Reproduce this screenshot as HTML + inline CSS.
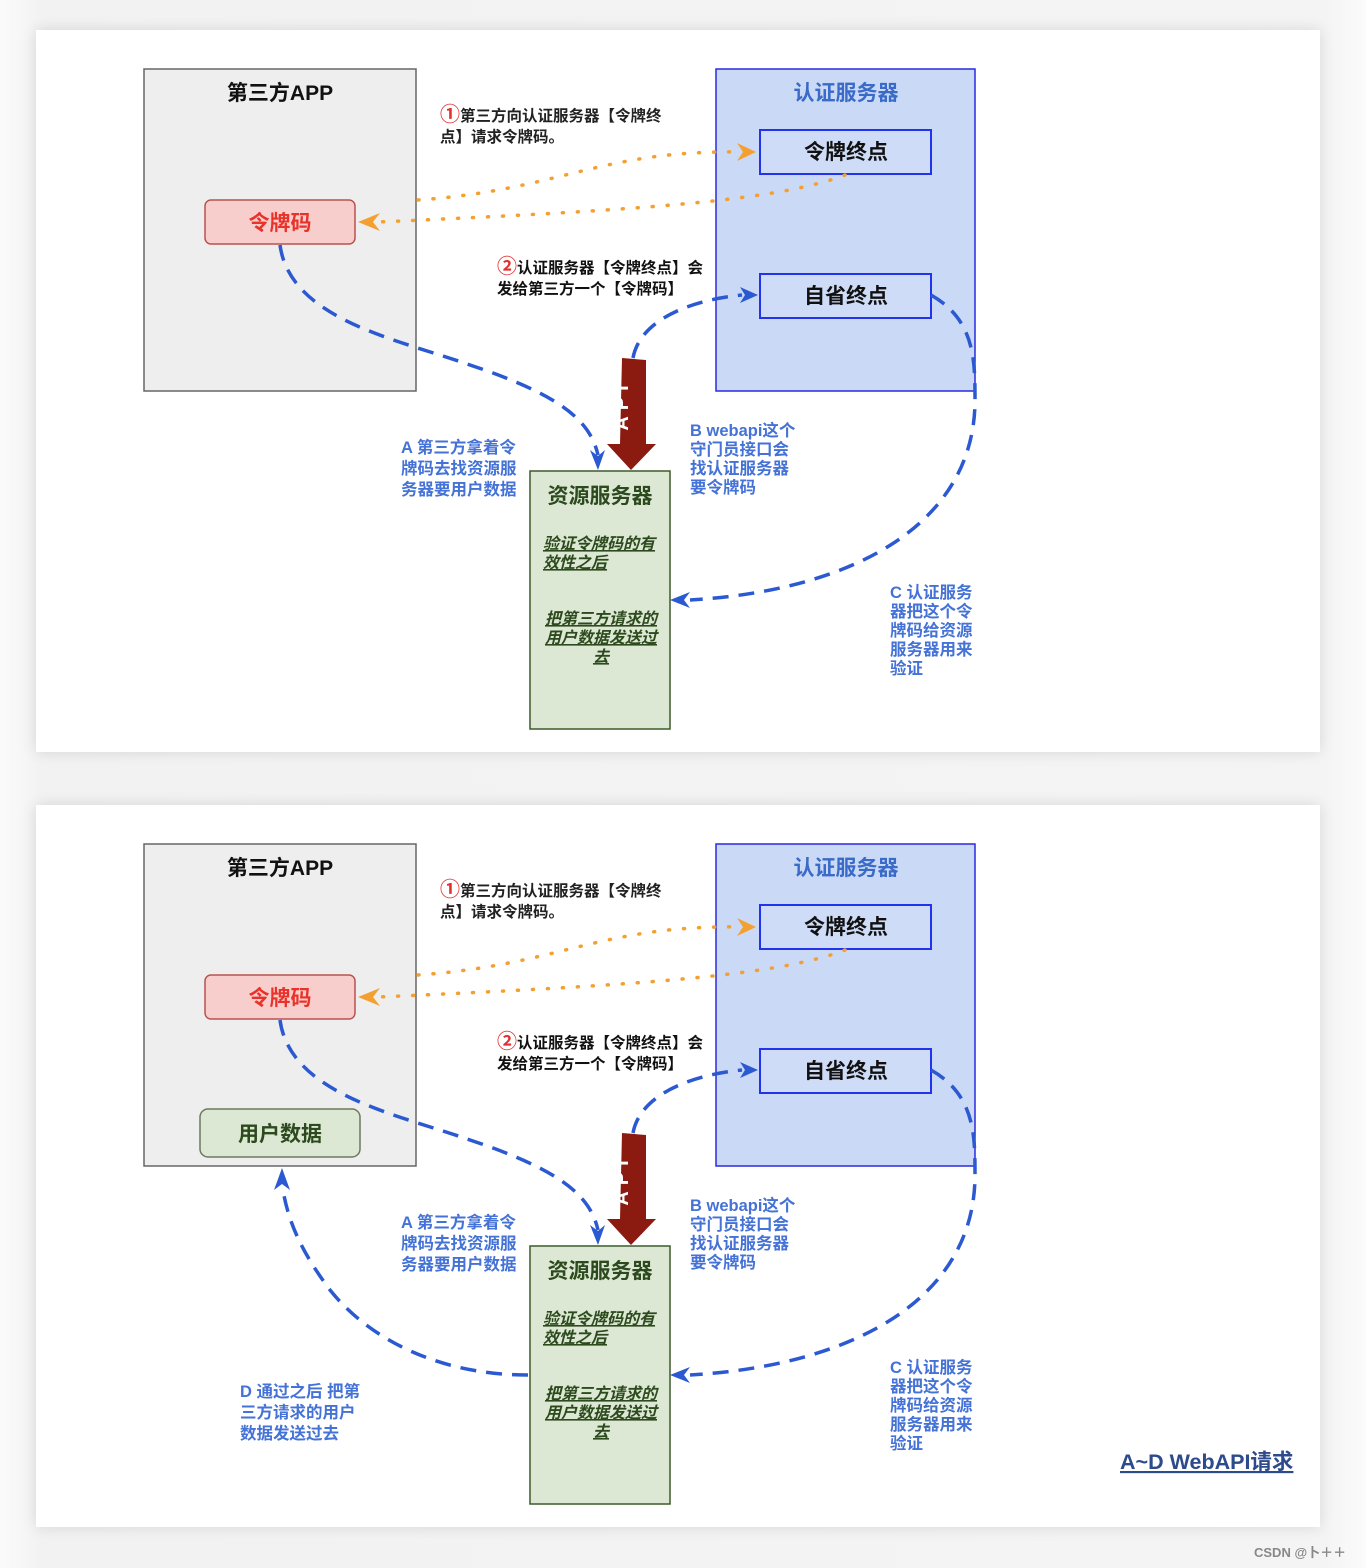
<!DOCTYPE html>
<html><head><meta charset="utf-8"><style>
html,body{margin:0;padding:0;background:#fff;}
body{width:1366px;height:1568px;position:relative;overflow:hidden;background:linear-gradient(90deg,#fbfbfb,#f2f2f2 3%,#f4f4f4 97%,#fbfbfb);}
.panel{position:absolute;left:36px;width:1284px;height:722px;background:#fff;box-shadow:0 0 14px rgba(0,0,0,0.12);}
svg{position:absolute;left:0;top:0;}
text{font-family:"Liberation Sans","Noto Sans CJK SC",sans-serif;font-weight:bold;}
</style></head><body>
<div class="panel" style="top:30px"></div>
<div class="panel" style="top:805px"></div>
<svg width="1366" height="1568" viewBox="0 0 1366 1568">
<defs>
<g id="d">
 <rect x="144" y="69" width="272" height="322" fill="#eeeeee" stroke="#666" stroke-width="1.5"/>
 <text x="280" y="100" font-size="21" text-anchor="middle" fill="#111">第三方APP</text>
 <rect x="205" y="200" width="150" height="44" rx="6" fill="#f8cecc" stroke="#b85450" stroke-width="1.5"/>
 <text x="280" y="230" font-size="21" text-anchor="middle" fill="#e8322a">令牌码</text>
 <rect x="716" y="69" width="259" height="322" fill="#cad9f5" stroke="#2a2ae0" stroke-width="1.5"/>
 <text x="846" y="100" font-size="21" text-anchor="middle" fill="#3a6bc9">认证服务器</text>
 <rect x="760" y="130" width="171" height="44" fill="#cfdcf7" stroke="#2233ee" stroke-width="2"/>
 <text x="846" y="159" font-size="21" text-anchor="middle" fill="#111">令牌终点</text>
 <rect x="760" y="274" width="171" height="44" fill="#cfdcf7" stroke="#2233ee" stroke-width="2"/>
 <text x="846" y="303" font-size="21" text-anchor="middle" fill="#111">自省终点</text>
 <rect x="530" y="471" width="140" height="258" fill="#dce8d4" stroke="#3d5a2b" stroke-width="1.5"/>
 <text x="600" y="503" font-size="21" text-anchor="middle" fill="#2d4a1e">资源服务器</text>
 <g font-size="16" font-style="italic" fill="#2d4a1e" text-decoration="underline">
  <text x="543" y="549">验证令牌码的有</text>
  <text x="543" y="568">效性之后</text>
  <text x="601" y="624" text-anchor="middle">把第三方请求的</text>
  <text x="601" y="643" text-anchor="middle">用户数据发送过</text>
  <text x="601" y="662" text-anchor="middle">去</text>
 </g>
 <path d="M418 200 C560 190 600 150 740 152" fill="none" stroke="#f4a031" stroke-width="3.5" stroke-dasharray="1 14" stroke-linecap="round"/>
 <path d="M737 143 L756 152 L737 161 L743 152Z" fill="#f4a031"/>
 <path d="M845 175 C780 200 650 210 378 222" fill="none" stroke="#f4a031" stroke-width="3.5" stroke-dasharray="1 14" stroke-linecap="round"/>
 <path d="M380 213 L358 222 L380 231 L373 222Z" fill="#f4a031"/>
 <g fill="none" stroke="#2b59d1" stroke-width="3.5" stroke-dasharray="16 10">
  <path d="M280 245 C290 320 400 340 470 365 C560 395 590 420 598 455"/>
  <path d="M633 358 C640 320 690 300 742 295"/>
  <path d="M931 295 C975 320 975 360 975 400 C975 520 860 590 690 600"/>
 </g>
 <path d="M590 450 L598 470 L605 450 L598 456Z" fill="#2b59d1"/>
 <path d="M740 287 L758 295 L740 303 L745 295Z" fill="#2b59d1"/>
 <path d="M690 592 L670 600 L690 608 L684 600Z" fill="#2b59d1"/>
 <path d="M622 358 L646 360 L646 444 L656 444 L631 470 L607 444 L620 444Z" fill="#8b1a10"/>
 <text transform="translate(628,405) rotate(-90)" font-size="20" font-weight="normal" fill="#fff" text-anchor="middle" letter-spacing="6">API</text>
 <text x="440" y="121" font-size="20" font-weight="normal" fill="#e03030">①</text>
 <text x="460" y="121" font-size="15.5" fill="#222">第三方向认证服务器【令牌终</text>
 <text x="440" y="142" font-size="15.5" fill="#222">点】请求令牌码。</text>
 <text x="497" y="273" font-size="20" font-weight="normal" fill="#e03030">②</text>
 <text x="517" y="273" font-size="15.5" fill="#111">认证服务器【令牌终点】会</text>
 <text x="497" y="294" font-size="15.5" fill="#111">发给第三方一个【令牌码】</text>
 <g font-size="16.5" fill="#4472d6">
  <text x="401" y="453">A 第三方拿着令</text>
  <text x="401" y="474">牌码去找资源服</text>
  <text x="401" y="495">务器要用户数据</text>
  <text x="690" y="436">B webapi这个</text>
  <text x="690" y="455">守门员接口会</text>
  <text x="690" y="474">找认证服务器</text>
  <text x="690" y="493">要令牌码</text>
  <text x="890" y="598">C 认证服务</text>
  <text x="890" y="617">器把这个令</text>
  <text x="890" y="636">牌码给资源</text>
  <text x="890" y="655">服务器用来</text>
  <text x="890" y="674">验证</text>
 </g>
</g>
</defs>
<use href="#d"/>
<use href="#d" transform="translate(0,775)"/>
<rect x="200" y="1109" width="160" height="48" rx="8" fill="#dce8d4" stroke="#6a7a5e" stroke-width="1.5"/>
<text x="280" y="1141" font-size="21" text-anchor="middle" fill="#2d4a1e">用户数据</text>
<path d="M528 1375 C440 1375 370 1340 330 1290 C300 1250 288 1220 283 1190" fill="none" stroke="#2b59d1" stroke-width="3.5" stroke-dasharray="16 10"/>
<path d="M274 1190 L282 1168 L290 1190 L282 1184Z" fill="#2b59d1"/>
<g font-size="16.5" fill="#4472d6">
 <text x="240" y="1397">D 通过之后 把第</text>
 <text x="240" y="1418">三方请求的用户</text>
 <text x="240" y="1439">数据发送过去</text>
</g>
<text x="1120" y="1469" font-size="21.5" fill="#2c4a8c" text-decoration="underline">A~D WebAPI请求</text>
<text x="1254" y="1557" font-size="13" font-weight="normal" fill="#888">CSDN @卜＋＋</text>
</svg>
</body></html>
